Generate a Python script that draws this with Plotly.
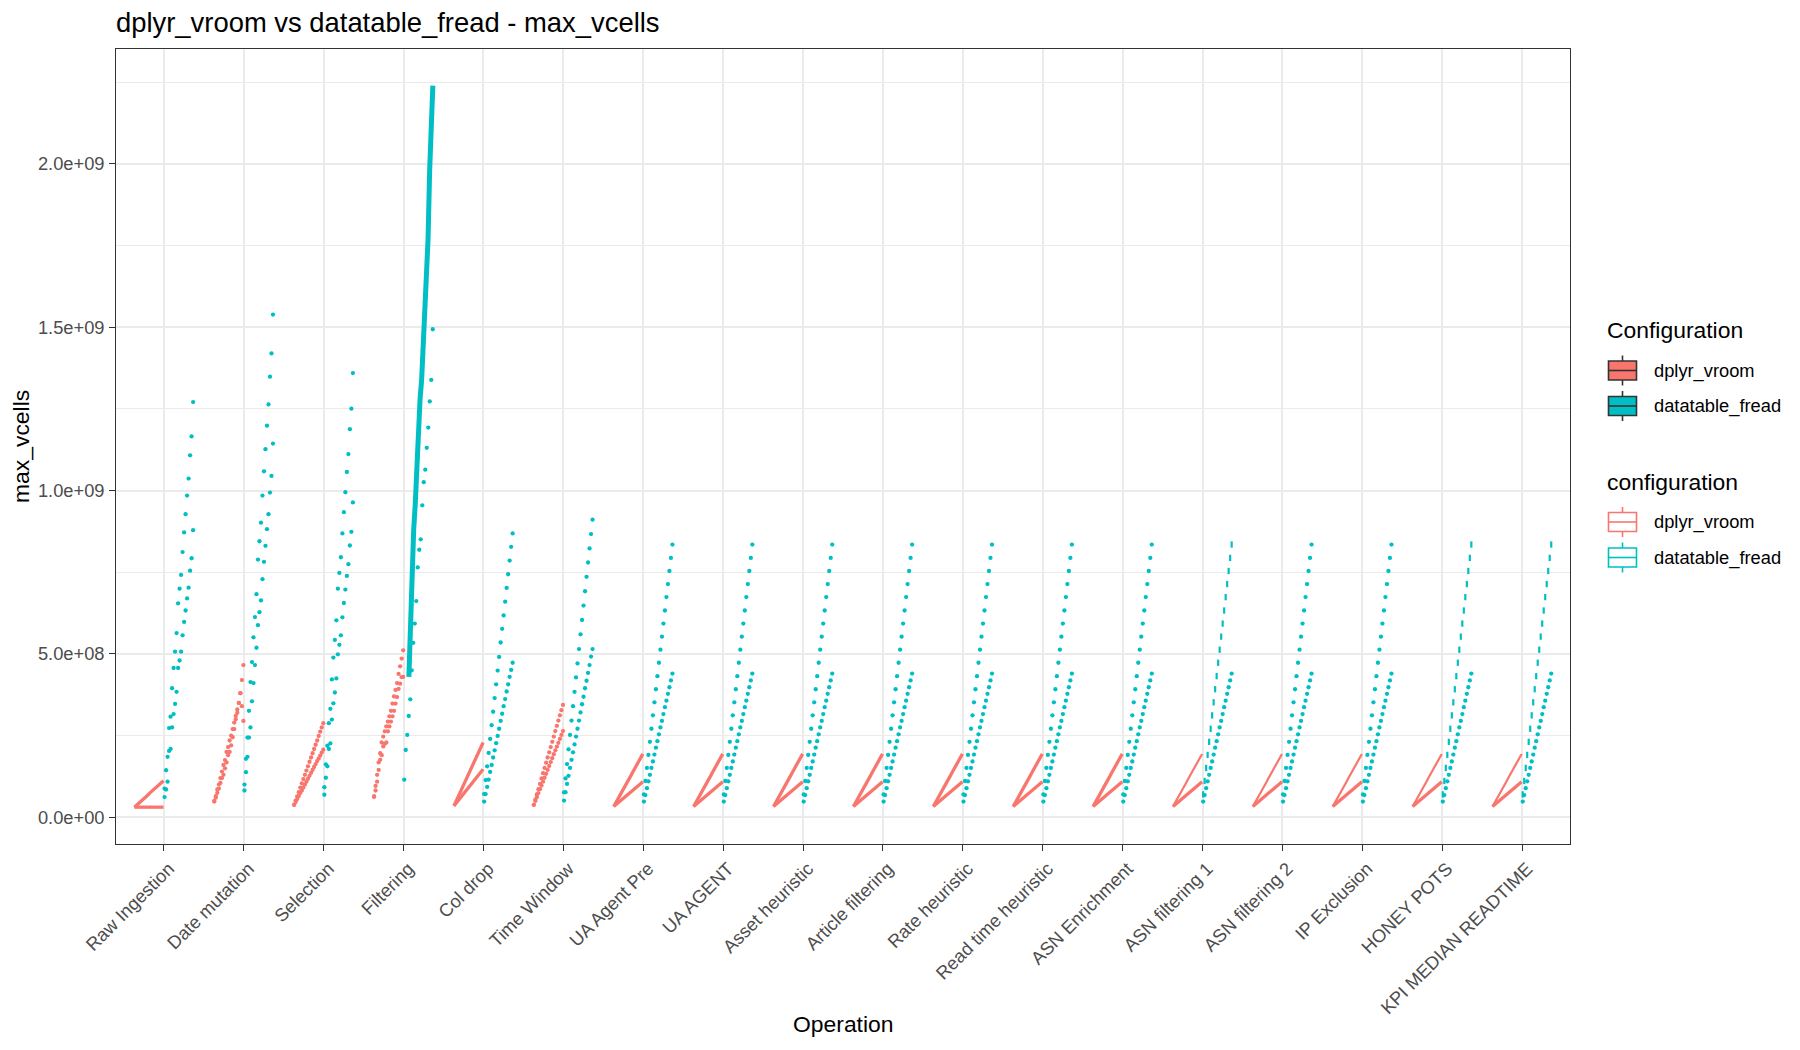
import numpy as np
import plotly.graph_objects as go

# ---------------- data (max_vcells, in units of 1e9) ----------------
operations = ["Raw Ingestion", "Date mutation", "Selection", "Filtering", "Col drop",
              "Time Window", "UA Agent Pre", "UA AGENT", "Asset heuristic",
              "Article filtering", "Rate heuristic", "Read time heuristic",
              "ASN Enrichment", "ASN filtering 1", "ASN filtering 2", "IP Exclusion",
              "HONEY POTS", "KPI MEDIAN READTIME"]
configurations = ["dplyr_vroom", "datatable_fread"]
y_tickvals = [0, 5e8, 1e9, 1.5e9, 2e9]
y_ticktext = ["0.0e+00", "5.0e+08", "1.0e+09", "1.5e+09", "2.0e+09"]
y_minorvals = [2.5e8, 7.5e8, 1.25e9, 1.75e9, 2.25e9]

# dplyr_vroom runs
raw_vroom_a = [0.031, 0.035, 0.040, 0.044, 0.048, 0.052, 0.057, 0.061, 0.065, 0.069,
               0.074, 0.078, 0.082, 0.086, 0.091, 0.095, 0.099, 0.103, 0.108, 0.112]
raw_vroom_b = [0.031, 0.031, 0.031, 0.031, 0.031, 0.031, 0.031, 0.031, 0.031, 0.031,
               0.031, 0.031, 0.031, 0.031, 0.031, 0.031, 0.031, 0.031, 0.031, 0.031]
date_vroom_a = [0.048, 0.060, 0.075, 0.088, 0.105, 0.120, 0.130, 0.150, 0.168, 0.190,
                0.200, 0.220, 0.245, 0.270, 0.300, 0.320, 0.350, 0.380, 0.420, 0.466]
date_vroom_b = [0.050, 0.065, 0.085, 0.100, 0.120, 0.140, 0.160, 0.175, 0.200, 0.215,
                0.235, 0.250, 0.270, 0.290, 0.310, 0.330, 0.350, 0.380, 0.340, 0.295]
sel_vroom_a = [0.038, 0.051, 0.064, 0.077, 0.091, 0.104, 0.117, 0.130, 0.143, 0.156,
               0.170, 0.183, 0.196, 0.209, 0.222, 0.235, 0.249, 0.262, 0.275, 0.288]
sel_vroom_b = [0.038, 0.047, 0.056, 0.065, 0.074, 0.082, 0.091, 0.100, 0.109, 0.118,
               0.127, 0.136, 0.145, 0.154, 0.163, 0.172, 0.180, 0.189, 0.198, 0.207]
filt_vroom_a = [0.065, 0.096, 0.130, 0.168, 0.196, 0.229, 0.247, 0.263, 0.278, 0.293,
                0.309, 0.326, 0.348, 0.370, 0.390, 0.411, 0.439, 0.462, 0.486, 0.511]
filt_vroom_b = [0.062, 0.082, 0.109, 0.145, 0.176, 0.190, 0.217, 0.225, 0.229, 0.263,
                0.278, 0.293, 0.309, 0.326, 0.348, 0.368, 0.393, 0.409, 0.429, 0.430]
col_vroom_a = [0.035, 0.045, 0.055, 0.066, 0.076, 0.086, 0.096, 0.106, 0.117, 0.127,
               0.137, 0.147, 0.157, 0.168, 0.178, 0.188, 0.198, 0.208, 0.219, 0.229]
col_vroom_b = [0.035, 0.041, 0.047, 0.053, 0.059, 0.065, 0.070, 0.076, 0.082, 0.088,
               0.094, 0.100, 0.106, 0.112, 0.118, 0.123, 0.129, 0.135, 0.141, 0.147]
tw_vroom_a = [0.038, 0.054, 0.070, 0.086, 0.102, 0.119, 0.135, 0.151, 0.167, 0.183,
              0.199, 0.215, 0.231, 0.247, 0.264, 0.280, 0.296, 0.312, 0.328, 0.344]
tw_vroom_b = [0.038, 0.050, 0.062, 0.074, 0.086, 0.097, 0.109, 0.121, 0.133, 0.145,
              0.157, 0.169, 0.181, 0.193, 0.205, 0.216, 0.228, 0.240, 0.252, 0.264]
std_vroom_a = [0.033, 0.041, 0.050, 0.058, 0.067, 0.075, 0.084, 0.092, 0.101, 0.109,
               0.118, 0.126, 0.135, 0.143, 0.152, 0.160, 0.169, 0.177, 0.186, 0.194]
std_vroom_b = [0.033, 0.037, 0.041, 0.045, 0.049, 0.053, 0.057, 0.061, 0.065, 0.069,
               0.073, 0.077, 0.081, 0.085, 0.089, 0.093, 0.097, 0.101, 0.105, 0.109]

# datatable_fread runs
raw_fread_a = [0.088, 0.144, 0.185, 0.273, 0.308, 0.395, 0.457, 0.507, 0.564, 0.655,
               0.700, 0.742, 0.812, 0.872, 0.928, 0.985, 1.037, 1.108, 1.166, 1.271]
raw_fread_b = [0.062, 0.085, 0.109, 0.203, 0.209, 0.275, 0.316, 0.347, 0.384, 0.457,
               0.480, 0.507, 0.557, 0.598, 0.633, 0.670, 0.703, 0.755, 0.793, 0.879]
date_fread_a = [0.100, 0.179, 0.244, 0.326, 0.414, 0.475, 0.551, 0.613, 0.683, 0.789,
                0.845, 0.902, 0.985, 1.059, 1.127, 1.199, 1.264, 1.349, 1.420, 1.539]
date_fread_b = [0.082, 0.138, 0.185, 0.244, 0.275, 0.355, 0.411, 0.466, 0.519, 0.588,
                0.628, 0.664, 0.729, 0.782, 0.831, 0.882, 0.928, 0.994, 1.045, 1.144]
sel_fread_a = [0.092, 0.162, 0.219, 0.288, 0.332, 0.422, 0.489, 0.543, 0.603, 0.700,
               0.748, 0.796, 0.869, 0.934, 0.995, 1.057, 1.112, 1.188, 1.251, 1.360]
sel_fread_b = [0.069, 0.121, 0.156, 0.209, 0.226, 0.299, 0.349, 0.382, 0.425, 0.499,
               0.528, 0.557, 0.612, 0.656, 0.697, 0.739, 0.775, 0.832, 0.874, 0.964]
filt_fread_a = [0.43, 0.62, 0.80, 0.88, 0.96, 1.10, 1.19, 1.28, 1.34, 1.45,
                1.56, 1.65, 1.77, 1.98, 2.08, 2.24]
filt_fread_b = [0.115, 0.206, 0.252, 0.310, 0.361, 0.450, 0.534, 0.593, 0.662, 0.765,
                0.819, 0.851, 0.955, 1.026, 1.064, 1.131, 1.193, 1.273, 1.339, 1.494]
col_fread_a = [0.071, 0.114, 0.156, 0.197, 0.240, 0.282, 0.323, 0.365, 0.407, 0.449,
               0.491, 0.535, 0.577, 0.618, 0.660, 0.702, 0.744, 0.786, 0.828, 0.869]
col_fread_b = [0.048, 0.071, 0.093, 0.115, 0.139, 0.160, 0.183, 0.205, 0.227, 0.249,
               0.271, 0.295, 0.317, 0.340, 0.362, 0.385, 0.407, 0.430, 0.451, 0.473]
tw_fread_a = [0.076, 0.119, 0.163, 0.208, 0.252, 0.296, 0.340, 0.384, 0.428, 0.471,
              0.515, 0.560, 0.604, 0.648, 0.692, 0.736, 0.780, 0.823, 0.867, 0.911]
tw_fread_b = [0.051, 0.077, 0.102, 0.127, 0.151, 0.176, 0.199, 0.223, 0.247, 0.271,
              0.296, 0.321, 0.346, 0.369, 0.395, 0.418, 0.442, 0.466, 0.492, 0.515]
std_fread_a = [0.070, 0.111, 0.151, 0.191, 0.231, 0.271, 0.312, 0.352, 0.392, 0.432,
               0.473, 0.513, 0.553, 0.593, 0.633, 0.674, 0.714, 0.754, 0.794, 0.835]
std_fread_b = [0.048, 0.068, 0.089, 0.110, 0.130, 0.151, 0.171, 0.192, 0.213, 0.233,
               0.254, 0.275, 0.295, 0.316, 0.337, 0.357, 0.378, 0.398, 0.419, 0.440]

UNIT = 1e9

vroom_runs = ([(raw_vroom_a, raw_vroom_b), (date_vroom_a, date_vroom_b),
               (sel_vroom_a, sel_vroom_b), (filt_vroom_a, filt_vroom_b),
               (col_vroom_a, col_vroom_b), (tw_vroom_a, tw_vroom_b)]
              + [(std_vroom_a, std_vroom_b)] * 12)
fread_runs = ([(raw_fread_a, raw_fread_b), (date_fread_a, date_fread_b),
               (sel_fread_a, sel_fread_b), (filt_fread_a, filt_fread_b),
               (col_fread_a, col_fread_b), (tw_fread_a, tw_fread_b)]
              + [(std_fread_a, std_fread_b)] * 12)

# ---------------- styles ----------------
RED = "#F8766D"
TEAL = "#00BFC4"
FONT = "Liberation Sans, Arial, Helvetica, sans-serif"
dotted_vroom_ops = {"Date mutation", "Selection", "Filtering", "Time Window"}
thin_upper_ops = {"ASN filtering 1", "ASN filtering 2", "IP Exclusion", "HONEY POTS",
                  "KPI MEDIAN READTIME"}
dash_fread_ops = {"ASN filtering 1", "HONEY POTS", "KPI MEDIAN READTIME"}
thick_fread_ops = {"Filtering"}

fig = go.Figure()

for i, op in enumerate(operations):
    xc = i + 1
    va, vb = vroom_runs[i]
    fa, fb = fread_runs[i]
    # dplyr_vroom (left of category)
    for k, vals in enumerate((va, vb)):
        xs = xc + np.linspace(-0.37, -0.005, len(vals))
        ys = np.array(vals) * UNIT
        if op in dotted_vroom_ops:
            fig.add_trace(go.Scatter(x=xs, y=ys, mode="markers",
                                     marker=dict(color=RED, size=4.3),
                                     showlegend=False, hoverinfo="skip"))
        else:
            w = 2.2 if (op in thin_upper_ops and k == 0) else 3.3
            fig.add_trace(go.Scatter(x=xs, y=ys, mode="lines",
                                     line=dict(color=RED, width=w),
                                     showlegend=False, hoverinfo="skip"))
    # datatable_fread (right of category)
    for k, vals in enumerate((fa, fb)):
        ys = np.array(vals) * UNIT
        if op in thick_fread_ops and k == 0:
            xs = xc + np.linspace(0.066, 0.366, len(vals))
            fig.add_trace(go.Scatter(x=xs, y=ys, mode="lines",
                                     line=dict(color=TEAL, width=5),
                                     showlegend=False, hoverinfo="skip"))
            continue
        xs = xc + np.linspace(0.008, 0.365, len(vals))
        if op in dash_fread_ops and k == 0:
            marker = dict(color=TEAL, size=4.5, symbol="line-ns",
                          line=dict(color=TEAL, width=2.2))
        else:
            marker = dict(color=TEAL, size=4.3)
        fig.add_trace(go.Scatter(x=xs, y=ys, mode="markers", marker=marker,
                                 showlegend=False, hoverinfo="skip"))

# ---------------- layout ----------------
L, R, T, B = 116, 230, 49, 206
W, H = 1800, 1050
PW, PH = W - L - R, H - T - B


def px_x(px):
    return (px - L) / PW


def px_y(py):
    return (H - B - py) / PH


fig.update_layout(
    width=W, height=H,
    margin=dict(l=L, r=R, t=T, b=B),
    paper_bgcolor="white", plot_bgcolor="white",
    font=dict(family=FONT, color="black"),
    title=dict(text="dplyr_vroom vs datatable_fread - max_vcells",
               x=L / W, xanchor="left", xref="container",
               y=1 - 22 / H, yanchor="middle", yref="container",
               font=dict(size=27.4, family=FONT, color="black")),
    showlegend=False,
    xaxis=dict(range=[0.4, 18.6], tickmode="array",
               tickvals=list(range(1, len(operations) + 1)), ticktext=operations,
               tickangle=-45, ticks="outside", ticklen=5.7, tickwidth=1.3,
               tickcolor="#333333", tickfont=dict(size=18.3, color="#4D4D4D", family=FONT),
               ticklabelshift=5,
               showgrid=True, gridcolor="#EBEBEB", gridwidth=2, zeroline=False,
               showline=True, mirror=True, linecolor="#333333", linewidth=1.3),
    yaxis=dict(range=[-8.18e7, 2.352e9], tickmode="array",
               tickvals=y_tickvals, ticktext=y_ticktext,
               ticks="outside", ticklen=5.7, tickwidth=1.3, tickcolor="#333333",
               tickfont=dict(size=18.3, color="#4D4D4D", family=FONT),
               ticklabelstandoff=1,
               showgrid=True, gridcolor="#EBEBEB", gridwidth=2, zeroline=False,
               minor=dict(tickmode="array", tickvals=y_minorvals, showgrid=True,
                          gridcolor="#EBEBEB", gridwidth=1, ticks=""),
               showline=True, mirror=True, linecolor="#333333", linewidth=1.3),
)

annotations = [
    dict(text="Operation", x=px_x(843), y=px_y(1024), xref="paper", yref="paper",
         showarrow=False, xanchor="center", yanchor="middle",
         font=dict(size=22.9, family=FONT, color="black")),
    dict(text="max_vcells", x=px_x(21), y=px_y(447), xref="paper", yref="paper",
         showarrow=False, xanchor="center", yanchor="middle", textangle=-90,
         font=dict(size=22.9, family=FONT, color="black")),
    dict(text="Configuration", x=px_x(1605), y=px_y(330), xref="paper", yref="paper",
         showarrow=False, xanchor="left", yanchor="middle",
         font=dict(size=22.9, family=FONT, color="black")),
    dict(text="configuration", x=px_x(1605), y=px_y(482), xref="paper", yref="paper",
         showarrow=False, xanchor="left", yanchor="middle",
         font=dict(size=22.9, family=FONT, color="black")),
]

shapes = []
legend_keys = [
    (configurations[0], 370.5, RED, "#333333"),
    (configurations[1], 406, TEAL, "#333333"),
    (configurations[0], 522, "white", RED),
    (configurations[1], 557.5, "white", TEAL),
]
for label, cy, fill, edge in legend_keys:
    x0, x1 = 1608.5, 1636.5
    xm = (x0 + x1) / 2
    shapes.append(dict(type="line", xref="paper", yref="paper",
                       x0=px_x(xm), x1=px_x(xm), y0=px_y(cy - 15), y1=px_y(cy + 15),
                       line=dict(color=edge, width=1.6)))
    shapes.append(dict(type="rect", xref="paper", yref="paper",
                       x0=px_x(x0), x1=px_x(x1), y0=px_y(cy - 9.5), y1=px_y(cy + 9.5),
                       fillcolor=fill, line=dict(color=edge, width=1.6)))
    shapes.append(dict(type="line", xref="paper", yref="paper",
                       x0=px_x(x0), x1=px_x(x1), y0=px_y(cy), y1=px_y(cy),
                       line=dict(color=edge, width=1.6)))
    annotations.append(dict(text=label, x=px_x(1652), y=px_y(cy), xref="paper",
                            yref="paper", showarrow=False, xanchor="left",
                            yanchor="middle",
                            font=dict(size=18.3, family=FONT, color="black")))

fig.update_layout(annotations=annotations, shapes=shapes)

fig.write_html("out.html")
